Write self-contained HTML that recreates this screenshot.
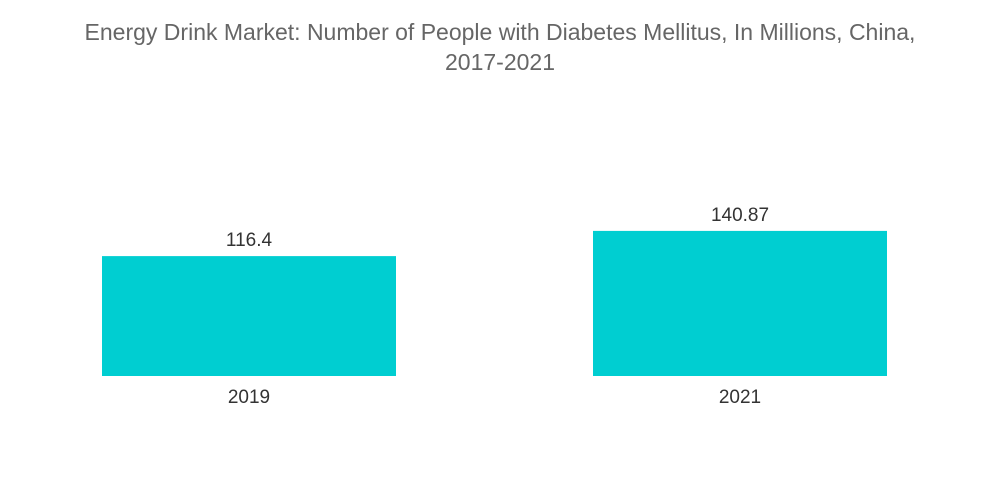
<!DOCTYPE html>
<html>
<head>
<meta charset="utf-8">
<style>
  html,body{margin:0;padding:0;background:#fff;}
  body{width:1000px;height:504px;overflow:hidden;font-family:"Liberation Sans",sans-serif;}
  .title{position:absolute;left:0;top:17px;width:1000px;text-align:center;color:#666;font-size:23px;line-height:30px;}
</style>
</head>
<body>
<div class="title">Energy Drink Market: Number of People with Diabetes Mellitus, In Millions, China,<br>2017-2021</div>
<svg id="chart" width="1000" height="504" style="position:absolute;left:0;top:0"></svg>
<script>
const categories = ["2019", "2021"];
const values = [116.4, 140.87];
const valueLabels = ["116.4", "140.87"];

const baseline = 376, pxPerUnit = 1.03;
const bandStart = 102, bandStep = 491, barWidth = 294;
function yScale(v){ return baseline - v * pxPerUnit; }
function xScale(i){ return bandStart + i * bandStep; }

const svg = document.getElementById('chart');
const NS = 'http://www.w3.org/2000/svg';
categories.forEach((c, i) => {
  const x = xScale(i), y = yScale(values[i]);
  const r = document.createElementNS(NS, 'rect');
  r.setAttribute('x', x); r.setAttribute('y', y);
  r.setAttribute('width', barWidth); r.setAttribute('height', baseline - y);
  r.setAttribute('fill', '#00CED1');
  
  
  svg.appendChild(r);

  const t = document.createElementNS(NS, 'text');
  t.setAttribute('x', x + barWidth / 2); t.setAttribute('y', y - 10);
  t.setAttribute('text-anchor', 'middle'); t.setAttribute('font-size', '19');
  t.setAttribute('fill', '#333'); t.setAttribute('font-family', 'Liberation Sans, sans-serif');
  t.textContent = valueLabels[i];
  
  
  svg.appendChild(t);

  const l = document.createElementNS(NS, 'text');
  l.setAttribute('x', x + barWidth / 2); l.setAttribute('y', baseline + 27);
  l.setAttribute('text-anchor', 'middle'); l.setAttribute('font-size', '19');
  l.setAttribute('fill', '#333'); l.setAttribute('font-family', 'Liberation Sans, sans-serif');
  l.textContent = c;
  
  
  svg.appendChild(l);
});
</script>
</body>
</html>
